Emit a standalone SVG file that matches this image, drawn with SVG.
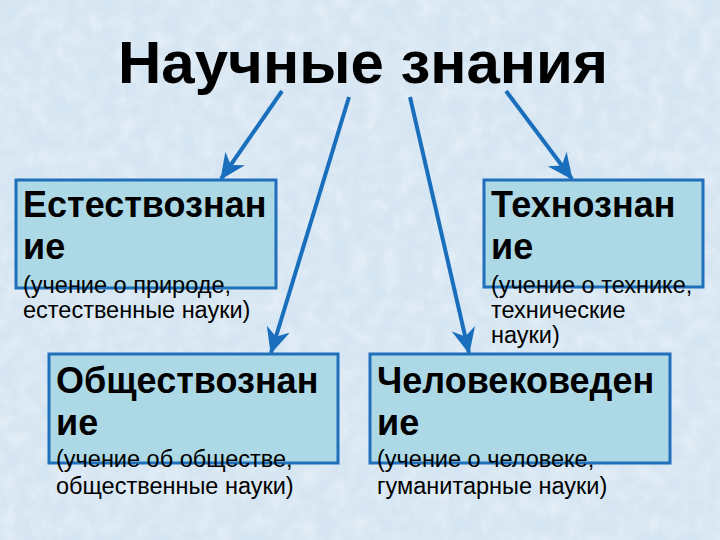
<svg xmlns="http://www.w3.org/2000/svg" width="720" height="540" viewBox="0 0 720 540">
<style>
.box{fill:#ADD8E6;stroke:#1F6FBA;stroke-width:3}
.t{font-family:"Liberation Sans",Arial,sans-serif;font-weight:bold;font-size:36px;fill:#000}
.s{font-family:"Liberation Sans",Arial,sans-serif;font-size:23.5px;fill:#000}
.title{font-family:"Liberation Sans",Arial,sans-serif;font-weight:bold;font-size:60px;fill:#000}
.c{stroke:#1A6FBD;stroke-width:4;fill:none;marker-end:url(#ah)}
</style>
<defs>
<marker id="ah" markerUnits="userSpaceOnUse" markerWidth="26" markerHeight="24" refX="25" refY="12" orient="auto" viewBox="0 0 26 24">
<path d="M0,0 L26,12 L0,24 L8,12 z" fill="#1A6FBD"/>
</marker>
<filter id="tex" x="0" y="0" width="100%" height="100%">
<feTurbulence type="fractalNoise" baseFrequency="0.06" numOctaves="3" seed="4" result="n"/>
<feColorMatrix in="n" type="matrix" values="0 0 0 0 1  0 0 0 0 1  0 0 0 0 1  0 0 0 0.9 -0.3"/>
</filter>
</defs>
<rect width="720" height="540" fill="#D5E5F2"/>
<rect width="720" height="540" filter="url(#tex)" opacity="0.7"/>
<g id="title"><text class="title" x="363" y="83" text-anchor="middle">Научные знания</text></g>
<g id="connectors">
<line class="c" x1="282" y1="91" x2="221" y2="179"/>
<line class="c" x1="349" y1="97" x2="271" y2="353"/>
<line class="c" x1="410" y1="97" x2="469" y2="353"/>
<line class="c" x1="506" y1="91" x2="572" y2="179"/>
</g>
<g id="n1">
<rect class="box" x="16" y="180" width="260" height="108"/>
<text class="t" x="23" y="217">Естествознан</text>
<text class="t" x="23" y="259">ие</text>
<text class="s" x="23" y="293">(учение о природе,</text>
<text class="s" x="23" y="318">естественные науки)</text>
</g>
<g id="n2">
<rect class="box" x="484" y="180" width="219" height="107"/>
<text class="t" x="491" y="217">Технознан</text>
<text class="t" x="491" y="259">ие</text>
<text class="s" x="491" y="293">(учение о технике,</text>
<text class="s" x="491" y="318">технические</text>
<text class="s" x="491" y="343">науки)</text>
</g>
<g id="n3">
<rect class="box" x="49" y="354" width="289" height="109"/>
<text class="t" x="56" y="393">Обществознан</text>
<text class="t" x="56" y="435">ие</text>
<text class="s" x="56" y="467">(учение об обществе,</text>
<text class="s" x="56" y="494">общественные науки)</text>
</g>
<g id="n4">
<rect class="box" x="370" y="354" width="300" height="109"/>
<text class="t" x="377" y="393">Человековеден</text>
<text class="t" x="377" y="435">ие</text>
<text class="s" x="377" y="467">(учение о человеке,</text>
<text class="s" x="377" y="494">гуманитарные науки)</text>
</g>
</svg>
